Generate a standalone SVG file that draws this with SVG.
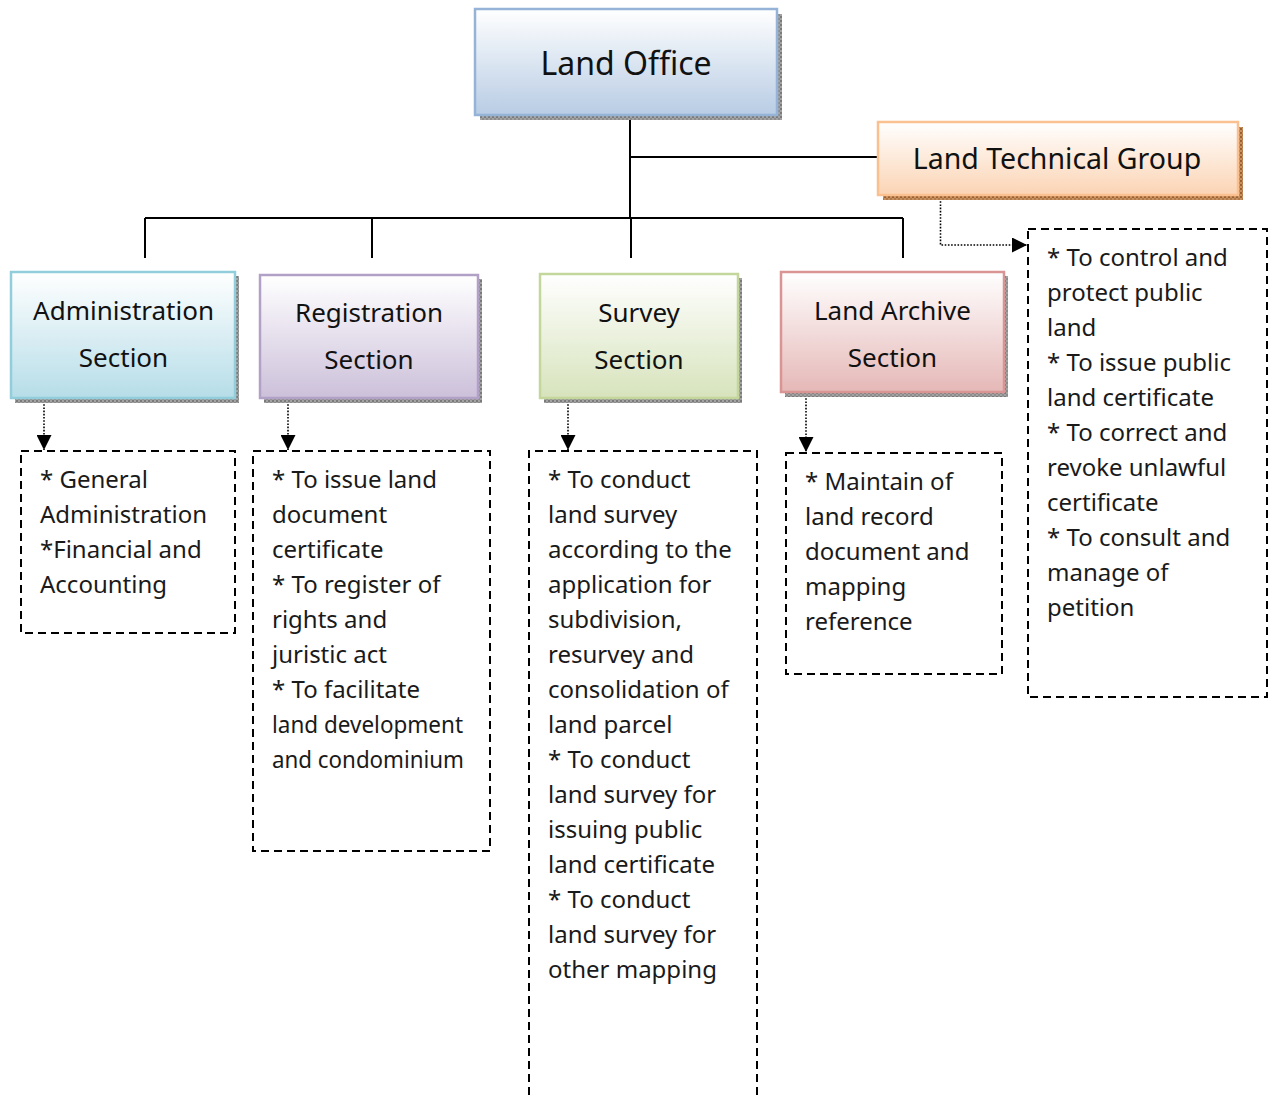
<svg xmlns="http://www.w3.org/2000/svg" width="1270" height="1095" viewBox="0 0 1270 1095">
<defs>
<style>
.lbl{font-family:"Noto Sans","Open Sans","DejaVu Sans",sans-serif;fill:#111;text-anchor:middle}
.body{font-family:"Noto Sans","Open Sans","DejaVu Sans",sans-serif;font-size:24px;fill:#1a1a1a}
.conn{stroke:#000;stroke-width:2;fill:none}
.dot{stroke:#000;stroke-width:1.6;fill:none;stroke-dasharray:1.6 1.6}
.dash{stroke:#000;stroke-width:2;fill:none;stroke-dasharray:8 5}
</style>
<pattern id="hatch" width="4" height="4" patternUnits="userSpaceOnUse">
<rect width="4" height="4" fill="#a3a3a3"/>
<rect width="2" height="2" fill="#7a7a7a"/>
<rect x="2" y="2" width="2" height="2" fill="#8c8c8c"/>
</pattern>
<pattern id="hatchO" width="4" height="4" patternUnits="userSpaceOnUse">
<rect width="4" height="4" fill="#c89060"/>
<rect width="2" height="2" fill="#9a6030"/>
<rect x="2" y="2" width="2" height="2" fill="#b07a48"/>
</pattern>
<linearGradient id="gBlue" x1="0" y1="0" x2="0" y2="1"><stop offset="0" stop-color="#ffffff"/><stop offset="1" stop-color="#b8cce4"/></linearGradient>
<linearGradient id="gOrange" x1="0" y1="0" x2="0" y2="1"><stop offset="0" stop-color="#ffffff"/><stop offset="1" stop-color="#fbd4b4"/></linearGradient>
<linearGradient id="gTeal" x1="0" y1="0" x2="0" y2="1"><stop offset="0" stop-color="#ffffff"/><stop offset="1" stop-color="#b6dde8"/></linearGradient>
<linearGradient id="gPurple" x1="0" y1="0" x2="0" y2="1"><stop offset="0" stop-color="#ffffff"/><stop offset="1" stop-color="#ccc0da"/></linearGradient>
<linearGradient id="gGreen" x1="0" y1="0" x2="0" y2="1"><stop offset="0" stop-color="#ffffff"/><stop offset="1" stop-color="#d7e3bc"/></linearGradient>
<linearGradient id="gRed" x1="0" y1="0" x2="0" y2="1"><stop offset="0" stop-color="#ffffff"/><stop offset="1" stop-color="#e5b8b7"/></linearGradient>
<marker id="arr" viewBox="0 0 10 10" refX="10" refY="5" markerWidth="16" markerHeight="15" markerUnits="userSpaceOnUse" orient="auto">
<path d="M0,0 L10,5 L0,10 Z" fill="#000"/>
</marker>
</defs>
<rect width="1270" height="1095" fill="#fff"/>

<g id="connectors">
<path class="conn" d="M630,115 V218"/>
<path class="conn" d="M630,157 H878"/>
<path class="conn" d="M145,218 H903"/>
<path class="conn" d="M145,218 V258"/>
<path class="conn" d="M372,218 V258"/>
<path class="conn" d="M631,218 V258"/>
<path class="conn" d="M903,218 V258"/>
<path class="dot" d="M44,401 V450" marker-end="url(#arr)"/>
<path class="dot" d="M288,401 V450" marker-end="url(#arr)"/>
<path class="dot" d="M568,401 V450" marker-end="url(#arr)"/>
<path class="dot" d="M806,395 V452" marker-end="url(#arr)"/>
<path class="dot" d="M940.5,198 V245 H1027" marker-end="url(#arr)"/>
</g>

<g id="land-office">
<rect x="480" y="14" width="302" height="106" fill="url(#hatch)"/>
<rect x="475" y="9" width="302" height="106" fill="url(#gBlue)" stroke="#95b3d7" stroke-width="2.5"/>
<text class="lbl" x="626" y="75" font-size="32">Land Office</text>
</g>

<g id="land-technical-group">
<rect x="883" y="127" width="360" height="73" fill="url(#hatchO)"/>
<rect x="878" y="122" width="360" height="73" fill="url(#gOrange)" stroke="#fac090" stroke-width="2.5"/>
<text class="lbl" x="1057" y="169" font-size="28.5">Land Technical Group</text>
</g>

<g id="administration-section">
<rect x="15" y="276" width="224" height="127" fill="url(#hatch)"/>
<rect x="11" y="272" width="224" height="126" fill="url(#gTeal)" stroke="#92cddc" stroke-width="2.5"/>
<text class="lbl" x="123.5" y="320" font-size="26">Administration</text>
<text class="lbl" x="123.5" y="367" font-size="26">Section</text>
</g>

<g id="registration-section">
<rect x="264" y="279" width="218" height="124" fill="url(#hatch)"/>
<rect x="260" y="275" width="218" height="123" fill="url(#gPurple)" stroke="#b2a1c7" stroke-width="2.5"/>
<text class="lbl" x="369" y="322" font-size="26">Registration</text>
<text class="lbl" x="369" y="369" font-size="26">Section</text>
</g>

<g id="survey-section">
<rect x="544" y="278" width="198" height="125" fill="url(#hatch)"/>
<rect x="540" y="274" width="198" height="124" fill="url(#gGreen)" stroke="#c3d69b" stroke-width="2.5"/>
<text class="lbl" x="639" y="322" font-size="26">Survey</text>
<text class="lbl" x="639" y="369" font-size="26">Section</text>
</g>

<g id="land-archive-section">
<rect x="785" y="276" width="223" height="121" fill="url(#hatch)"/>
<rect x="781" y="272" width="223" height="120" fill="url(#gRed)" stroke="#d99594" stroke-width="2.5"/>
<text class="lbl" x="892.5" y="320" font-size="26">Land Archive</text>
<text class="lbl" x="892.5" y="367" font-size="26">Section</text>
</g>

<g id="administration-duties">
<rect class="dash" x="21" y="451" width="214" height="182"/>
<text class="body" x="40" y="488">* General</text>
<text class="body" x="40" y="523">Administration</text>
<text class="body" x="40" y="558">*Financial and</text>
<text class="body" x="40" y="593">Accounting</text>
</g>

<g id="registration-duties">
<rect class="dash" x="253" y="451" width="237" height="400"/>
<text class="body" x="272" y="488">* To issue land</text>
<text class="body" x="272" y="523">document</text>
<text class="body" x="272" y="558">certificate</text>
<text class="body" x="272" y="593">* To register of</text>
<text class="body" x="272" y="628">rights and</text>
<text class="body" x="272" y="663">juristic act</text>
<text class="body" x="272" y="698">* To facilitate</text>
<text class="body" x="272" y="733" textLength="191" lengthAdjust="spacingAndGlyphs">land development</text>
<text class="body" x="272" y="768" textLength="192" lengthAdjust="spacingAndGlyphs">and condominium</text>
</g>

<g id="survey-duties">
<path class="dash" d="M529,1095 V451 H757 V1095"/>
<text class="body" x="548" y="488">* To conduct</text>
<text class="body" x="548" y="523">land survey</text>
<text class="body" x="548" y="558">according to the</text>
<text class="body" x="548" y="593">application for</text>
<text class="body" x="548" y="628">subdivision,</text>
<text class="body" x="548" y="663">resurvey and</text>
<text class="body" x="548" y="698">consolidation of</text>
<text class="body" x="548" y="733">land parcel</text>
<text class="body" x="548" y="768">* To conduct</text>
<text class="body" x="548" y="803">land survey for</text>
<text class="body" x="548" y="838">issuing public</text>
<text class="body" x="548" y="873">land certificate</text>
<text class="body" x="548" y="908">* To conduct</text>
<text class="body" x="548" y="943">land survey for</text>
<text class="body" x="548" y="978">other mapping</text>
</g>

<g id="land-archive-duties">
<rect class="dash" x="786" y="453" width="216" height="221"/>
<text class="body" x="805" y="490">* Maintain of</text>
<text class="body" x="805" y="525">land record</text>
<text class="body" x="805" y="560">document and</text>
<text class="body" x="805" y="595">mapping</text>
<text class="body" x="805" y="630">reference</text>
</g>

<g id="land-technical-duties">
<rect class="dash" x="1028" y="229" width="239" height="468"/>
<text class="body" x="1047" y="266">* To control and</text>
<text class="body" x="1047" y="301">protect public</text>
<text class="body" x="1047" y="336">land</text>
<text class="body" x="1047" y="371">* To issue public</text>
<text class="body" x="1047" y="406">land certificate</text>
<text class="body" x="1047" y="441">* To correct and</text>
<text class="body" x="1047" y="476">revoke unlawful</text>
<text class="body" x="1047" y="511">certificate</text>
<text class="body" x="1047" y="546">* To consult and</text>
<text class="body" x="1047" y="581">manage of</text>
<text class="body" x="1047" y="616">petition</text>
</g>
</svg>
